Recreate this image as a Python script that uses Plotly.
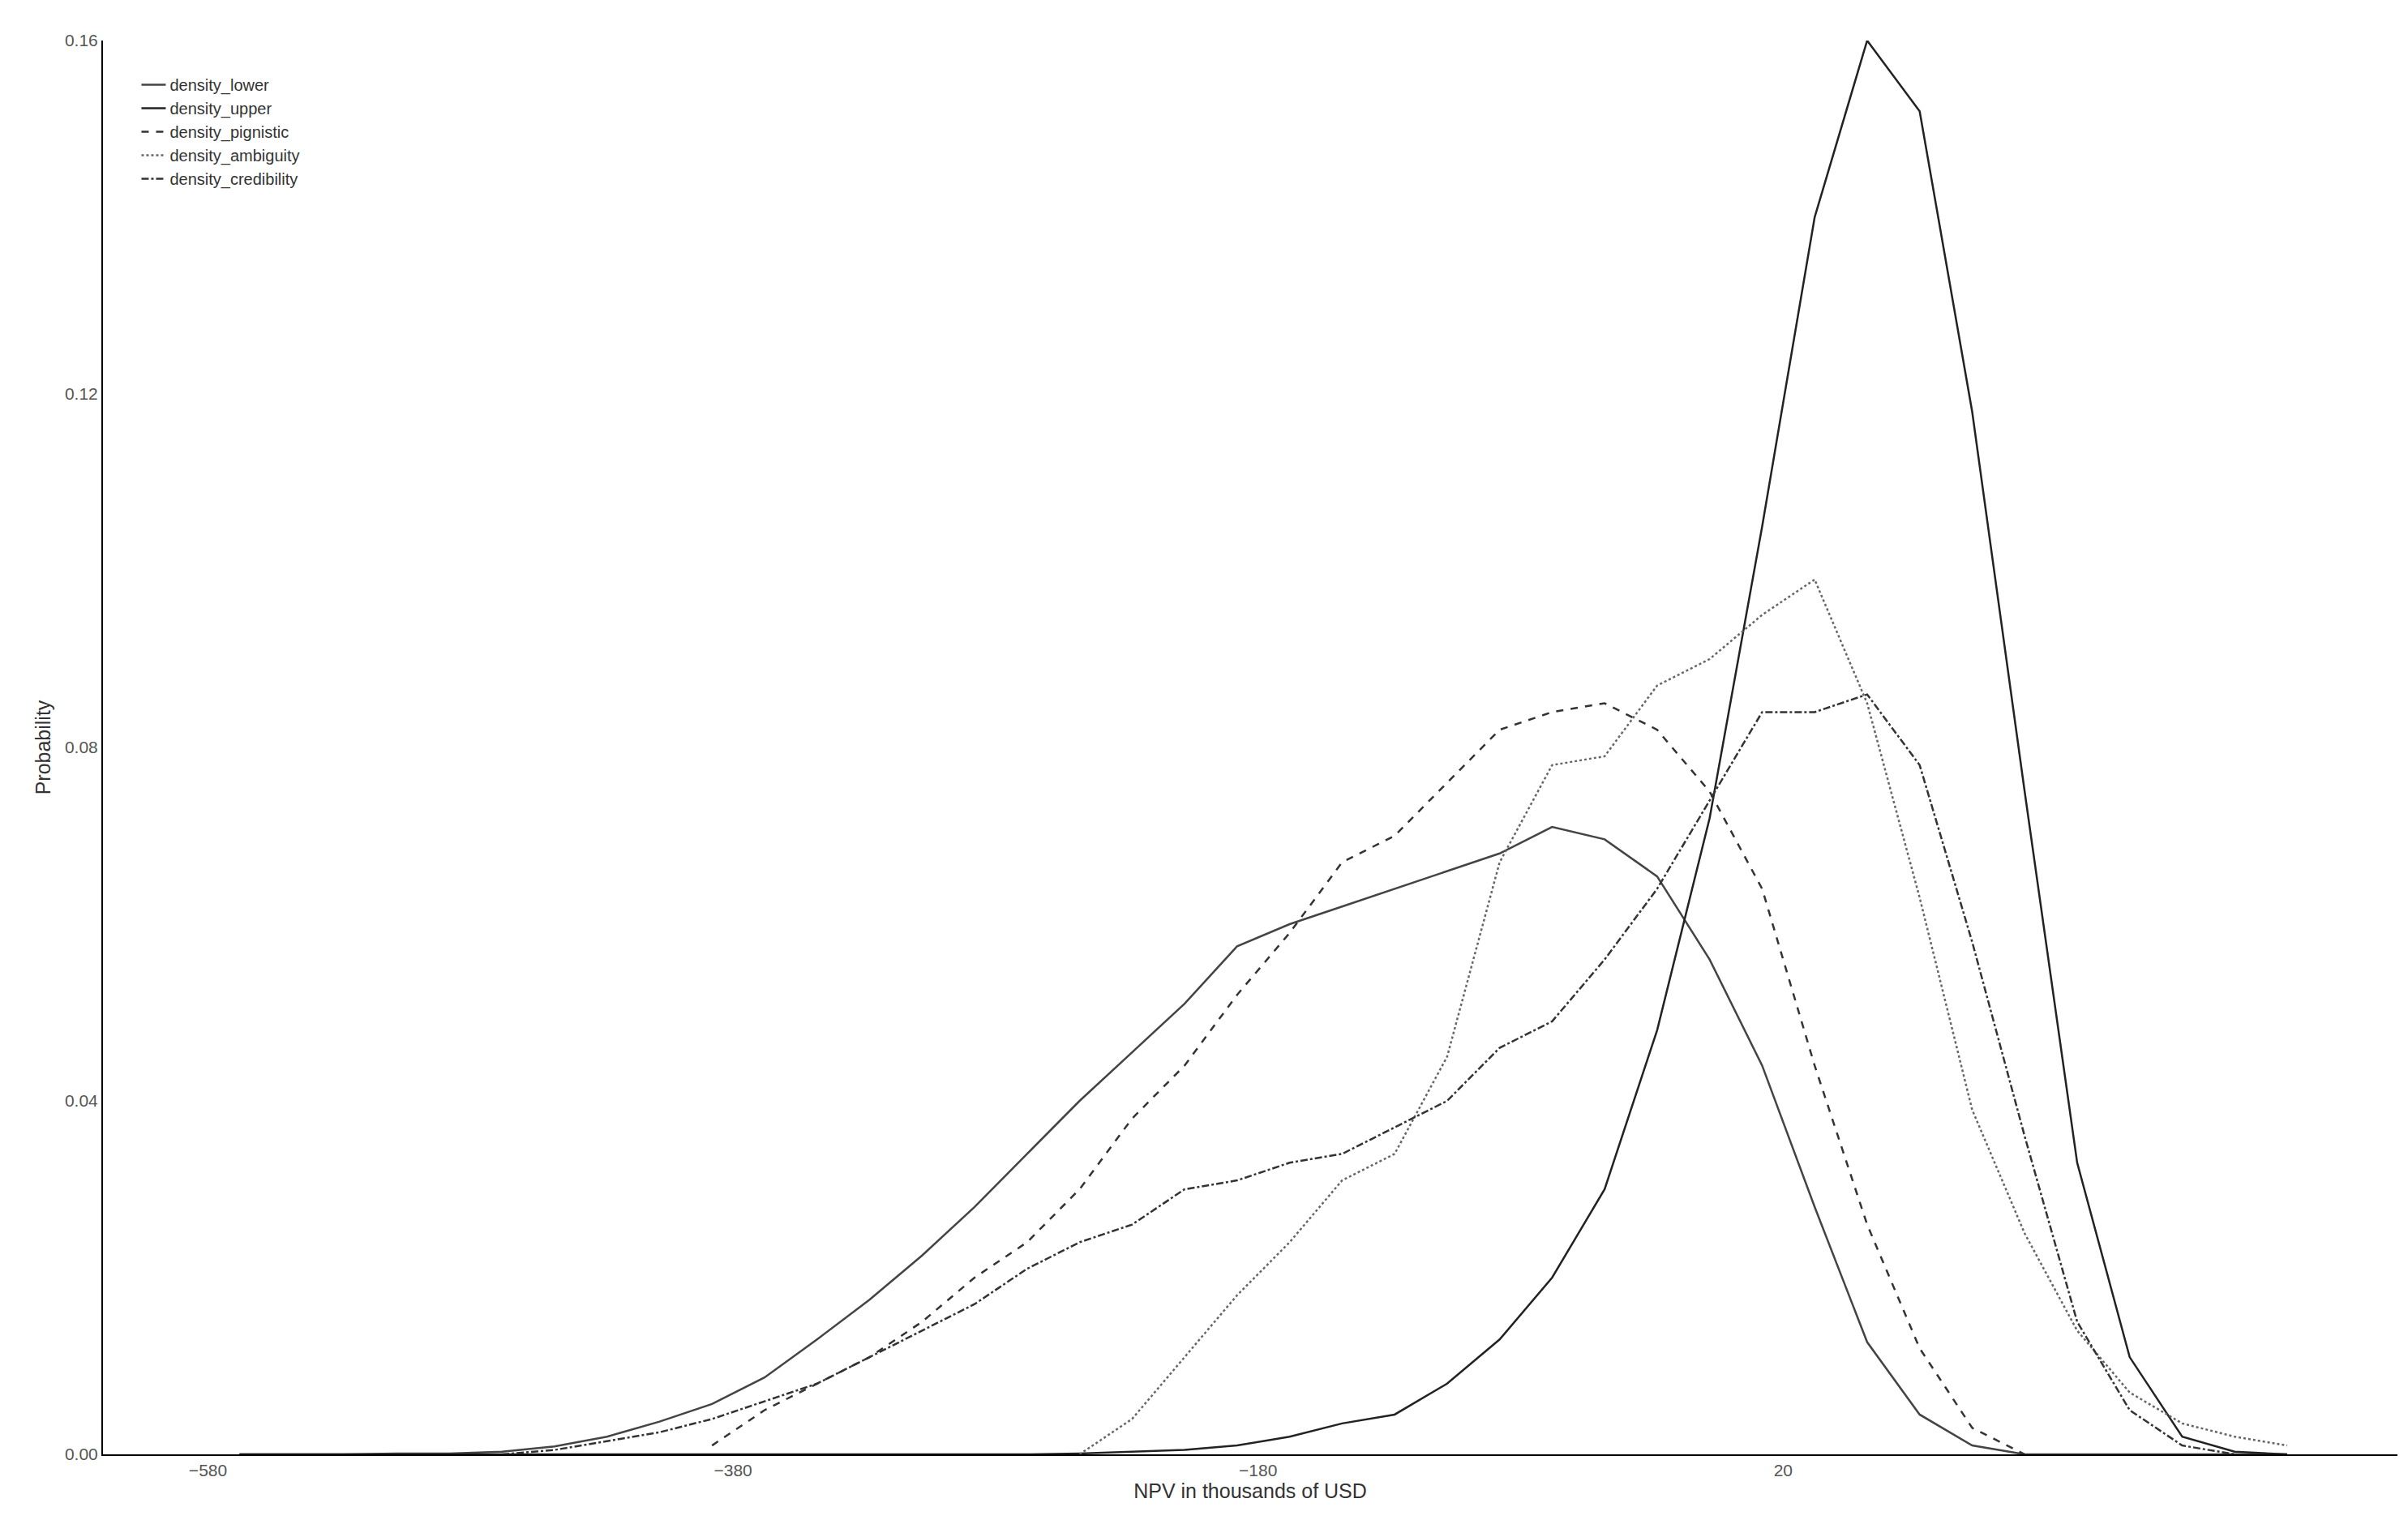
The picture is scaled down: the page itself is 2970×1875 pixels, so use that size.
"""
NPV density curves (lower/upper/pignistic/ambiguity/credibility)
"""
import plotly.graph_objects as go

# Data ------------------------------------------------------------------------
npv = [-568, -548, -528, -508, -488, -468, -448, -428, -408, -388, -368, -348,
       -328, -308, -288, -268, -248, -228, -208, -188, -168, -148, -128, -108,
       -88, -68, -48, -28, -8, 12, 32, 52, 72, 92, 112, 132, 152, 172, 192, 212]

density_lower = [0, 0, 0, 0.0001, 0.0001, 0.0003, 0.0009, 0.002, 0.0037, 0.0057,
                 0.0087, 0.013, 0.0175, 0.0225, 0.028, 0.034, 0.040, 0.0455,
                 0.051, 0.0575, 0.060, 0.062, 0.064, 0.066, 0.068, 0.071,
                 0.0696, 0.0654, 0.056, 0.044, 0.028, 0.0127, 0.0045, 0.001,
                 0, 0, 0, 0, 0, 0]
density_upper = [0, 0, 0, 0, 0, 0, 0, 0, 0, 0, 0, 0, 0, 0, 0, 0, 0.0001, 0.0003,
                 0.0005, 0.001, 0.002, 0.0035, 0.0045, 0.008, 0.013, 0.020,
                 0.030, 0.048, 0.072, 0.105, 0.140, 0.160, 0.152, 0.118, 0.075,
                 0.033, 0.011, 0.002, 0.0003, 0]
density_pignistic = [None, None, None, None, None, None, None, None, None, 0.001,
                     0.005, 0.008, 0.011, 0.015, 0.020, 0.024, 0.030, 0.038,
                     0.044, 0.052, 0.059, 0.067, 0.070, 0.076, 0.082, 0.084,
                     0.085, 0.082, 0.075, 0.064, 0.044, 0.026, 0.012, 0.003,
                     0, None, None, None, None, None]
density_ambiguity = [None, None, None, None, None, None, None, None, None, None,
                     None, None, None, None, None, None, 0, 0.004, 0.011, 0.018,
                     0.024, 0.031, 0.034, 0.045, 0.067, 0.078, 0.079, 0.087,
                     0.090, 0.095, 0.099, 0.085, 0.063, 0.039, 0.025, 0.014,
                     0.007, 0.0035, 0.002, 0.001]
density_credibility = [None, None, None, None, None, 0, 0.0005, 0.0015, 0.0025,
                       0.004, 0.006, 0.008, 0.011, 0.014, 0.017, 0.021, 0.024,
                       0.026, 0.030, 0.031, 0.033, 0.034, 0.037, 0.040, 0.046,
                       0.049, 0.056, 0.064, 0.074, 0.084, 0.084, 0.086, 0.078,
                       0.058, 0.036, 0.015, 0.005, 0.001, 0, None]

x_ticks = [-580, -380, -180, 20]

# Plot ------------------------------------------------------------------------
series = [
    ("density_lower", density_lower, "solid", "#444444"),
    ("density_upper", density_upper, "solid", "#222222"),
    ("density_pignistic", density_pignistic, "dash", "#333333"),
    ("density_ambiguity", density_ambiguity, "dot", "#666666"),
    ("density_credibility", density_credibility, "dashdot", "#333333"),
]

fig = go.Figure()
for name, vals, dash, color in series:
    fig.add_trace(go.Scatter(x=npv, y=vals, mode="lines", name=name,
                             line=dict(color=color, width=2.5, dash=dash)))

fig.update_layout(
    width=2970, height=1875,
    paper_bgcolor="white", plot_bgcolor="white",
    margin=dict(l=119, r=21, t=42, b=89),
    font=dict(family="Liberation Sans, Arial", size=21, color="#333333"),
    showlegend=True,
    legend=dict(x=0.015, y=0.98, xanchor="left", yanchor="top",
                bgcolor="rgba(0,0,0,0)", font=dict(size=20), tracegroupgap=8),
)
fig.update_xaxes(range=[-620, 254], tickvals=x_ticks, showgrid=False,
                 zeroline=False, showline=True, linecolor="black", linewidth=2,
                 ticks="", tickfont=dict(color="#555555"),
                 title=dict(text="NPV in thousands of USD", standoff=5))
fig.update_yaxes(range=[0, 0.16], tickvals=[0, 0.04, 0.08, 0.12, 0.16],
                 tickformat=".2f", showgrid=False, zeroline=False,
                 showline=True, linecolor="black", linewidth=2, ticks="",
                 tickfont=dict(color="#555555"),
                 title=dict(text="Probability", standoff=10))

fig.write_html("out.html")
